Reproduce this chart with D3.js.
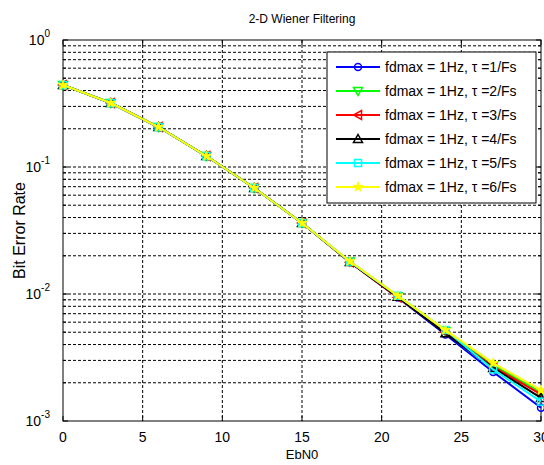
<!DOCTYPE html>
<html>
<head>
<meta charset="utf-8">
<script src="https://cdn.jsdelivr.net/npm/d3@7"></script>
<style>
  body { margin: 0; background: #fff; }
  text { font-family: "Liberation Sans", Arial, sans-serif; }
</style>
</head>
<body>
<div id="chart"></div>
<script>
// data
var ebno = [0, 3, 6, 9, 12, 15, 18, 21, 24, 27, 30];
var ber1 = [0.442, 0.319, 0.2065, 0.122, 0.0684, 0.0362, 0.0179, 0.0094, 0.0048, 0.00243, 0.00127];
var ber2 = [0.442, 0.319, 0.2065, 0.122, 0.0684, 0.0362, 0.0180, 0.0096, 0.0051, 0.00275, 0.00168];
var ber3 = [0.442, 0.319, 0.2065, 0.122, 0.0684, 0.0362, 0.0178, 0.0094, 0.0050, 0.00268, 0.00162];
var ber4 = [0.442, 0.319, 0.2065, 0.122, 0.0684, 0.0362, 0.0179, 0.0095, 0.0049, 0.00262, 0.00152];
var ber5 = [0.442, 0.319, 0.2065, 0.122, 0.0684, 0.0362, 0.0180, 0.0097, 0.0052, 0.00255, 0.00142];
var ber6 = [0.442, 0.319, 0.2065, 0.122, 0.0684, 0.0362, 0.0181, 0.0097, 0.0052, 0.00286, 0.00175];
var seriesNames = ["fdmax = 1Hz, \u03c4 =1/Fs", "fdmax = 1Hz, \u03c4 =2/Fs", "fdmax = 1Hz, \u03c4 =3/Fs",
                   "fdmax = 1Hz, \u03c4 =4/Fs", "fdmax = 1Hz, \u03c4 =5/Fs", "fdmax = 1Hz, \u03c4 =6/Fs"];
var colors = ["#0000ff", "#00ff00", "#ff0000", "#000000", "#00ffff", "#ffff00"];
var xTicks = [0, 5, 10, 15, 20, 25, 30];
var yDecades = [0, -1, -2, -3];

var all = [ber1, ber2, ber3, ber4, ber5, ber6];

var margin = {top: 40, right: 3, bottom: 44, left: 63},
    width = 544 - margin.left - margin.right,
    height = 465 - margin.top - margin.bottom;

var x = d3.scaleLinear().domain([0, 30]).range([0, width]);
var y = d3.scaleLog().domain([1e-3, 1]).range([height, 0]);

var svg = d3.select("#chart").append("svg")
    .attr("width", 544)
    .attr("height", 465);
var g = svg.append("g")
    .attr("transform", "translate(" + margin.left + "," + margin.top + ")");

// minor/major y values for the grid
var yGrid = [];
yDecades.slice(1).forEach(function(e) {
  for (var k = 1; k < 10; k++) yGrid.push(k * Math.pow(10, e));
});

// grid
g.selectAll(".gy").data(yGrid.filter(function(v) { return v > 1e-3; }))
  .enter().append("line")
    .attr("x1", 0).attr("x2", width)
    .attr("y1", function(d) { return y(d); })
    .attr("y2", function(d) { return y(d); })
    .attr("stroke", "#000").attr("stroke-width", 1)
    .attr("stroke-dasharray", "3,2");
g.selectAll(".gx").data(xTicks.slice(1, -1))
  .enter().append("line")
    .attr("y1", 0).attr("y2", height)
    .attr("x1", function(d) { return x(d); })
    .attr("x2", function(d) { return x(d); })
    .attr("stroke", "#000").attr("stroke-width", 1)
    .attr("stroke-dasharray", "3,2");

// ticks inward on all four sides
xTicks.forEach(function(d) {
  g.append("line").attr("x1", x(d)).attr("x2", x(d)).attr("y1", height).attr("y2", height - 5).attr("stroke", "#000");
  g.append("line").attr("x1", x(d)).attr("x2", x(d)).attr("y1", 0).attr("y2", 5).attr("stroke", "#000");
});
yGrid.concat([1]).forEach(function(d) {
  var len = (Math.abs(Math.log10(d) - Math.round(Math.log10(d))) < 1e-9) ? 5 : 3;
  g.append("line").attr("x1", 0).attr("x2", len).attr("y1", y(d)).attr("y2", y(d)).attr("stroke", "#000");
  g.append("line").attr("x1", width).attr("x2", width - len).attr("y1", y(d)).attr("y2", y(d)).attr("stroke", "#000");
});

// frame
g.append("rect").attr("width", width).attr("height", height)
  .attr("fill", "none").attr("stroke", "#000").attr("stroke-width", 1);

// tick labels
g.selectAll(".xl").data(xTicks).enter().append("text")
  .attr("x", function(d) { return x(d); })
  .attr("y", height + 21)
  .attr("text-anchor", "middle")
  .attr("font-size", 14)
  .text(function(d) { return d; });

var yl = g.selectAll(".yl").data(yDecades).enter().append("text")
  .attr("x", -13)
  .attr("y", function(d) { return y(Math.pow(10, d)) + 5; })
  .attr("text-anchor", "end")
  .attr("font-size", 14);
yl.append("tspan").text("10");
yl.append("tspan").attr("dy", -8).attr("font-size", 10).text(function(d) { return d; });

// lines and markers
var line = d3.line()
  .x(function(d, i) { return x(ebno[i]); })
  .y(function(d) { return y(d); });

function marker(sel, idx, cx, cy) {
  var c = colors[idx];
  if (idx === 0) {
    sel.append("circle").attr("cx", cx).attr("cy", cy).attr("r", 3.5)
      .attr("fill", "none").attr("stroke", c).attr("stroke-width", 1.5);
  } else if (idx === 1) {
    sel.append("path").attr("d", "M" + (cx - 4.5) + "," + (cy - 3.5) + "L" + (cx + 4.5) + "," + (cy - 3.5) + "L" + cx + "," + (cy + 4.5) + "Z")
      .attr("fill", "none").attr("stroke", c).attr("stroke-width", 1.5);
  } else if (idx === 2) {
    sel.append("path").attr("d", "M" + (cx + 3.5) + "," + (cy - 4.5) + "L" + (cx + 3.5) + "," + (cy + 4.5) + "L" + (cx - 4.5) + "," + cy + "Z")
      .attr("fill", "none").attr("stroke", c).attr("stroke-width", 1.5);
  } else if (idx === 3) {
    sel.append("path").attr("d", "M" + (cx - 4.5) + "," + (cy + 3.5) + "L" + (cx + 4.5) + "," + (cy + 3.5) + "L" + cx + "," + (cy - 4.5) + "Z")
      .attr("fill", "none").attr("stroke", c).attr("stroke-width", 1.5);
  } else if (idx === 4) {
    sel.append("rect").attr("x", cx - 3.5).attr("y", cy - 3.5).attr("width", 7).attr("height", 7)
      .attr("fill", "none").attr("stroke", c).attr("stroke-width", 1.5);
  } else {
    sel.append("path").attr("d", d3.symbol().type(d3.symbolStar).size(30)())
      .attr("transform", "translate(" + cx + "," + cy + ")")
      .attr("fill", c).attr("stroke", c).attr("stroke-width", 1);
  }
}

all.forEach(function(s, idx) {
  var sg = g.append("g");
  sg.append("path").datum(s)
    .attr("d", line)
    .attr("fill", "none")
    .attr("stroke", colors[idx])
    .attr("stroke-width", 2);
  s.forEach(function(v, i) { marker(sg, idx, x(ebno[i]), y(v)); });
});

// legend
var lg = svg.append("g").attr("transform", "translate(327,52)");
lg.append("rect").attr("width", 209).attr("height", 151)
  .attr("fill", "#fff").attr("stroke", "#000").attr("stroke-width", 1);
seriesNames.forEach(function(name, i) {
  var ly = 15 + i * 24;
  lg.append("line").attr("x1", 9).attr("x2", 53).attr("y1", ly).attr("y2", ly)
    .attr("stroke", colors[i]).attr("stroke-width", 2);
  marker(lg, i, 31, ly);
  lg.append("text").attr("x", 58).attr("y", ly + 5)
    .attr("font-size", 14).text(name);
});

// titles
svg.append("text").attr("x", margin.left + width / 2).attr("y", 23)
  .attr("text-anchor", "middle").attr("font-size", 12).text("2-D Wiener Filtering");
svg.append("text").attr("x", margin.left + width / 2).attr("y", 459)
  .attr("text-anchor", "middle").attr("font-size", 13).text("EbN0");
svg.append("text").attr("transform", "translate(25," + (margin.top + height / 2) + ") rotate(-90)")
  .attr("text-anchor", "middle").attr("font-size", 16).text("Bit Error Rate");
</script>
</body>
</html>
